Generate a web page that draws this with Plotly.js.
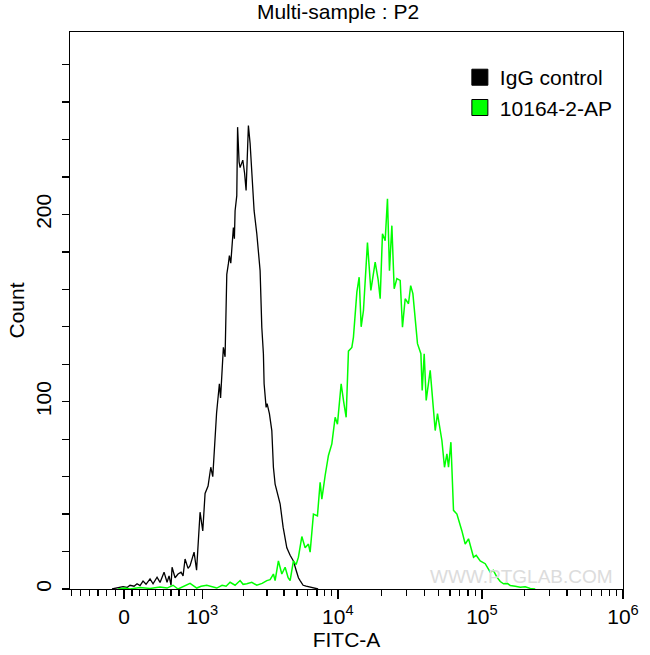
<!DOCTYPE html>
<html>
<head>
<meta charset="utf-8">
<script src="https://cdn.plot.ly/plotly-3.0.1.min.js"></script>
<style>html,body{margin:0;padding:0;background:#fff;}#chart{width:650px;height:655px;}</style>
</head>
<body>
<div id="chart"></div>
<script>
// Display channel (x) of each histogram bin and its count, per sample
const iggChannel = [42,45,49,53,57,60,64,67,70,73,76,80,83,87,90,94,97,99,101,102,105,108,111,113,115,118,120,122,124,126.5,128,130,132.7,135,138,140.7,142.7,145,146.5,148.3,149.3,150.5,152.3,153.3,155,156.7,158.3,159.3,160.7,163.3,164.3,165,166.7,167.5,169,170,172.7,174.5,176,178.3,180,181.7,184,186.7,189,190,191.7,193.3,194,196,197,199.3,201.7,203.3,205,210,213,216.7,220,223.3,226,228.3,230,233,236,240,243,246,248];
const iggCount = [0,0.3,1,1.3,0.8,2,1.5,2.8,1.8,4.2,2.5,5.4,2.8,6.3,3.5,9,3.6,7,2,11.6,6,8,9,7,16,11,12.5,16,19.7,10,25,41,31,51,55,65,60,84.6,94,104,109.6,102,124,129,124,168,173.7,178,174,193,187,202,210,246.6,228,225,229,222,212.8,247.5,238,225,202,189.7,175.4,170,139.8,125.6,109.6,97,99,93.6,84.6,65,56,45.5,33,22,18,15,10,6,4.5,2,1.5,1,1,0.3,0];

const abChannel = [48,55,60,70,80,90,97,103,108,114,120,126.7,131,136.7,142,146.7,152,156,160,165,170,173,176.7,181.7,186.7,192,196.7,200,203.3,205,208.3,211.7,215,218,220,223.3,226,228.3,231.7,235,238.3,240,243.3,247.3,250,251.7,255,258.3,261.7,265,267.3,271,273.5,276,278.3,281.7,283.3,286.7,289,291,293.3,297.3,300.7,303,305,308,310,312.3,315,317.3,319.3,321.7,324,326.7,330,332.3,335,338.3,340.5,342.7,345,347.3,350.7,352,354,356,360,365,367.3,371.7,374.3,376.7,378.3,380.7,383.3,386.7,391.7,395,398.3,403.3,406,410,415,420,423,426.7,430,433.3,437,440,445,450,455,460,465];
const abCount = [0,0.5,0,0.8,0.3,1,0.5,2,0,1.5,3,0.5,1.5,2,1,0.5,2,1.5,3.6,2,4.5,2.5,2.8,3.6,2,3,4.5,5,8,4.5,15,8,11.6,6,4.5,15,13,17,28,22,24,19.7,40,39,57,48,60.6,71.3,77.5,91.7,88,109.6,100,91.7,127,129,134.5,158.5,166.5,140,148.7,185,159.4,168,174.5,165,155,189.7,186,208.4,170,194,160.3,165.7,164.8,139.8,155,152.3,162,157.7,145,131,125.6,106,125.6,100.7,116.7,84.6,93.6,79.3,65,72.2,65,78.4,42,40,31,24,26.8,17,18,15,13.5,9,10,6.3,4,2.8,3,1.9,1.5,1,1.2,0.3,0];

const seriesNames = ['IgG control', '10164-2-AP'];
const seriesColors = ['#000000', '#00ff00'];

// Axis: display channels of the decade labels on the biexponential FITC-A scale
const xMajorChannels = [54, 132.3, 267.7, 411.7, 552.7];
const xMajorLabels = ['0', '10<sup>3</sup>', '10<sup>4</sup>', '10<sup>5</sup>', '10<sup>6</sup>'];
const yMajorTicks = [0, 100, 200];
const yMinorTicks = [20, 40, 60, 80, 120, 140, 160, 180, 220, 240, 260, 280];

// value -> display channel (biexponential-like scale)
const decadeAnchor = {3: 132.3, 4: 267.7, 5: 411.7, 6: 552.7};
function channelOf(v) {
  if (v <= 0) return 54 + v * 0.087;
  if (v < 1000) return 54 + v * (132.3 - 54) / 1000;
  const l = Math.log10(v), k = Math.floor(l);
  return decadeAnchor[k] + (l - k) * (decadeAnchor[k + 1] - decadeAnchor[k]);
}
const xMinor = [];
for (let i = 1; i <= 6; i++) xMinor.push(channelOf(-100 * i));
for (let i = 1; i <= 9; i++) xMinor.push(channelOf(100 * i));
for (let d = 3; d <= 5; d++) for (let m = 2; m <= 9; m++) xMinor.push(channelOf(m * Math.pow(10, d)));

const FONT = 'Liberation Sans, Arial, sans-serif';

const traces = [
  {x: iggChannel, y: iggCount, type: 'scatter', mode: 'lines', line: {color: seriesColors[0], width: 1.3}, showlegend: false, hoverinfo: 'skip'},
  {x: abChannel, y: abCount, type: 'scatter', mode: 'lines', line: {color: seriesColors[1], width: 1.5}, showlegend: false, hoverinfo: 'skip'},
  {x: [null], y: [null], type: 'scatter', mode: 'markers', name: seriesNames[0], marker: {symbol: 'square', size: 20, color: seriesColors[0], line: {color: '#000', width: 1}}},
  {x: [null], y: [null], type: 'scatter', mode: 'markers', name: seriesNames[1], marker: {symbol: 'square', size: 20, color: seriesColors[1], line: {color: '#000', width: 1}}}
];

const layout = {
  width: 650, height: 655,
  margin: {l: 70, r: 27, t: 32, b: 66, pad: 0},
  paper_bgcolor: '#fff', plot_bgcolor: '#fff',
  font: {family: FONT, size: 21, color: '#000'},
  title: {text: 'Multi-sample : P2', x: 0.52, xanchor: 'center', y: 0.993, yanchor: 'top', font: {family: FONT, size: 21, color: '#000'}},
  xaxis: {
    range: [0, 552.7], showgrid: false, zeroline: false,
    showline: true, linecolor: '#000', linewidth: 1, mirror: true,
    tickmode: 'array', tickvals: xMajorChannels, ticktext: xMajorLabels,
    ticks: 'outside', ticklen: 9, tickcolor: '#000', tickwidth: 1.3,
    minor: {tickmode: 'array', tickvals: xMinor, ticks: 'outside', ticklen: 6, tickcolor: '#000', tickwidth: 1.3},
    tickfont: {family: FONT, size: 21, color: '#000'},
    title: {text: 'FITC-A', font: {family: FONT, size: 21, color: '#000'}, standoff: 2}
  },
  yaxis: {
    range: [0, 297.4], showgrid: false, zeroline: false,
    showline: true, linecolor: '#000', linewidth: 1, mirror: true,
    tickmode: 'array', tickvals: yMajorTicks, ticktext: yMajorTicks.map(String),
    ticks: 'outside', ticklen: 7, tickcolor: '#000', tickwidth: 1.3, tickangle: -90,
    ticklabelstandoff: 3,
    minor: {tickmode: 'array', tickvals: yMinorTicks, ticks: 'outside', ticklen: 7, tickcolor: '#000', tickwidth: 1.3},
    tickfont: {family: FONT, size: 21, color: '#000'},
    title: {text: 'Count', font: {family: FONT, size: 21, color: '#000'}, standoff: 1}
  },
  legend: {x: 0.705, y: 0.955, xanchor: 'left', yanchor: 'top', bgcolor: 'rgba(0,0,0,0)', borderwidth: 0, font: {family: FONT, size: 21, color: '#000'}, tracegroupgap: 0},
  annotations: [
    {text: 'WWW.PTGLAB.COM', xref: 'paper', yref: 'paper', x: 0.985, y: 0.0, xanchor: 'right', yanchor: 'bottom', showarrow: false, font: {family: FONT, size: 19, color: '#dcdcdc'}}
  ]
};

Plotly.newPlot('chart', traces, layout, {staticPlot: true, displayModeBar: false});
</script>
</body>
</html>
